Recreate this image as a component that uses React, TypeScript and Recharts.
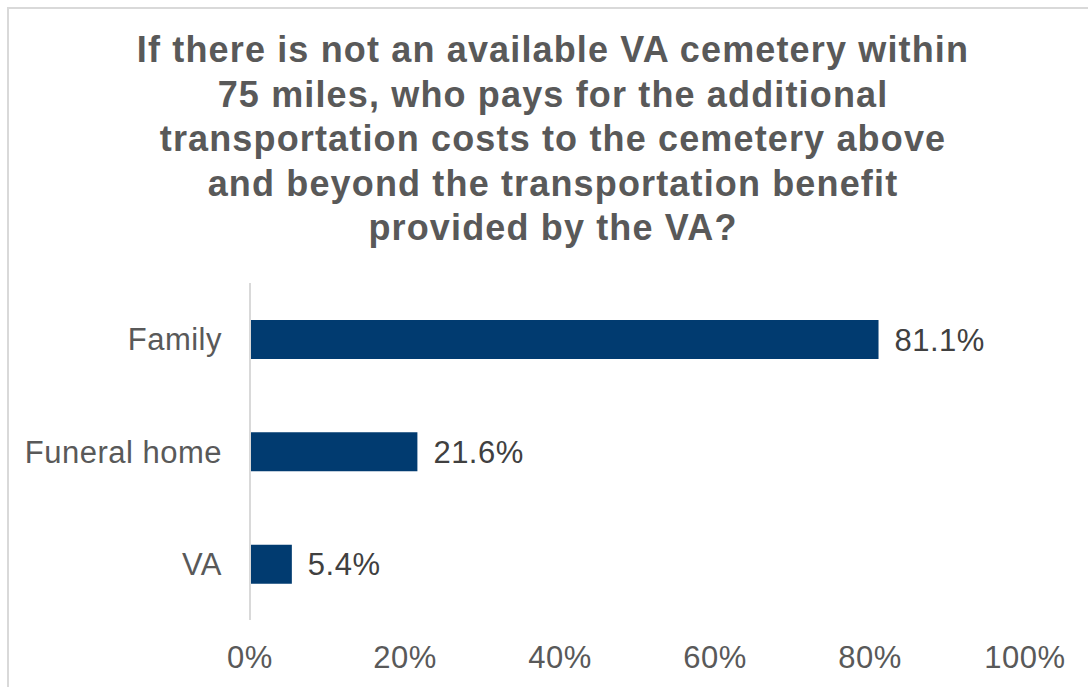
import { BarChart, Bar, XAxis, YAxis, LabelList } from 'recharts';

const categories = ['Family', 'Funeral home', 'VA'];
const shares = [81.1, 21.6, 5.4];
const xTicks = [0, 20, 40, 60, 80, 100];

const titleLines = [
  'If there is not an available VA cemetery within',
  '75 miles, who pays for the additional',
  'transportation costs to the cemetery above',
  'and beyond the transportation benefit',
  'provided by the VA?',
];

const rows = categories.map((name, i) => ({ name, value: shares[i] }));

const FONT = '"Liberation Sans", Arial, sans-serif';
const tickStyle = { fill: '#595959', fontSize: 31, fontFamily: FONT, letterSpacing: 0.5 };

export default function App() {
  return (
    <div
      style={{
        position: 'absolute',
        left: 0,
        top: 0,
        width: 1088,
        height: 687,
        overflow: 'hidden',
        background: '#fff',
        fontFamily: FONT,
      }}
    >
      <div
        style={{
          position: 'absolute',
          left: 7,
          top: 7,
          width: 1081,
          height: 680,
          borderTop: '2px solid #d9d9d9',
          borderLeft: '2px solid #d9d9d9',
          boxSizing: 'border-box',
        }}
      />
      <div
        style={{
          position: 'absolute',
          left: 53,
          top: 28,
          width: 1000,
          textAlign: 'center',
          fontWeight: 'bold',
          fontSize: 36,
          letterSpacing: 1.15,
          lineHeight: '44.5px',
          color: '#595959',
        }}
      >
        {titleLines.map((line) => (
          <div key={line}>{line}</div>
        ))}
      </div>
      <div style={{ position: 'absolute', left: 0, top: 0 }}>
        <BarChart
          width={1088}
          height={687}
          data={rows}
          layout='vertical'
          margin={{ top: 283, right: 63, bottom: 0, left: 0 }}
        >
          <XAxis
            type='number'
            domain={[0, 100]}
            ticks={xTicks}
            tickFormatter={(v: number) => `${v}%`}
            axisLine={false}
            tickLine={false}
            tickSize={0}
            tickMargin={26}
            height={67}
            interval={0}
            tick={tickStyle}
          />
          <YAxis
            type='category'
            dataKey='name'
            width={250}
            axisLine={{ stroke: '#d9d9d9', strokeWidth: 2 }}
            tickLine={false}
            tickSize={0}
            tickMargin={28}
            tick={tickStyle}
          />
          <Bar dataKey='value' fill='#013b70' barSize={39} isAnimationActive={false}>
            <LabelList
              dataKey='value'
              position='right'
              offset={16}
              formatter={(v: number) => `${v.toFixed(1)}%`}
              fill='#404040'
              fontSize={31}
              fontFamily={FONT}
              letterSpacing={0.5}
            />
          </Bar>
        </BarChart>
      </div>
    </div>
  );
}
